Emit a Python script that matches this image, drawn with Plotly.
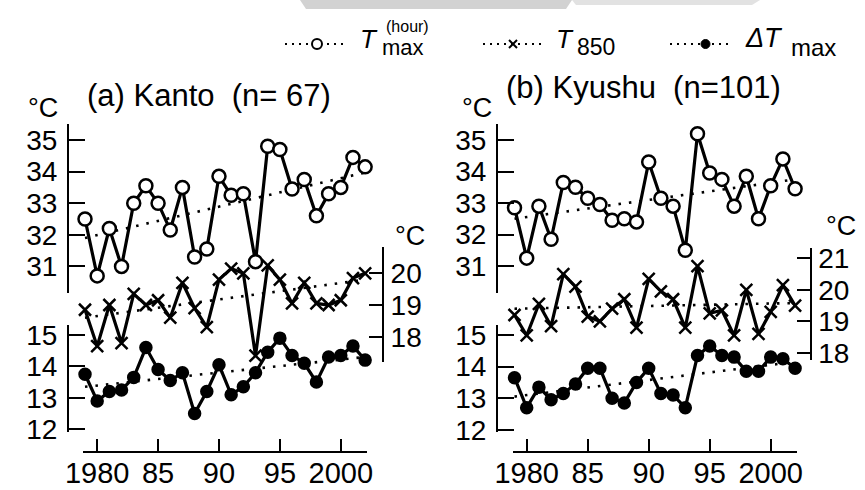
import plotly.graph_objects as go

W, H = 865, 490

# ---------------- data ----------------
years = list(range(1979, 2003))

kanto_tmax = [32.5, 30.7, 32.2, 31.0, 33.0, 33.55, 33.0, 32.15, 33.5, 31.3, 31.55, 33.85,
              33.25, 33.3, 31.15, 34.8, 34.7, 33.45, 33.75, 32.6, 33.3, 33.5, 34.45, 34.15]
kanto_t850 = [18.85, 17.7, 19.0, 17.8, 19.35, 19.0, 19.15, 18.6, 19.7, 18.9, 18.3, 19.8,
              20.15, 20.0, 17.4, 20.25, 19.8, 19.05, 19.7, 19.05, 19.0, 19.15, 19.85, 20.0]
kanto_dt = [13.75, 12.9, 13.2, 13.25, 13.65, 14.6, 13.9, 13.55, 13.8, 12.5, 13.2, 14.05,
            13.1, 13.35, 13.8, 14.45, 14.9, 14.35, 14.1, 13.5, 14.3, 14.35, 14.65, 14.2]

kyushu_tmax = [32.85, 31.25, 32.9, 31.85, 33.65, 33.5, 33.15, 32.95, 32.45, 32.5, 32.4, 34.3,
               33.15, 32.9, 31.5, 35.2, 33.95, 33.75, 32.9, 33.85, 32.5, 33.55, 34.4, 33.45]
kyushu_t850 = [19.2, 18.55, 19.55, 18.85, 20.5, 20.1, 19.15, 19.0, 19.4, 19.7, 18.8, 20.35,
               19.95, 19.7, 18.8, 20.75, 19.25, 19.35, 18.55, 20.0, 18.6, 19.3, 20.15, 19.5]
kyushu_dt = [13.65, 12.7, 13.35, 12.95, 13.15, 13.45, 13.95, 13.95, 13.0, 12.85, 13.5, 13.95,
             13.15, 13.1, 12.7, 14.35, 14.65, 14.35, 14.3, 13.85, 13.85, 14.3, 14.25, 13.95]

# linear trend lines (values at 1979 and 2002)
trend_years = [1979, 2002]
kanto_tmax_trend = [31.9, 33.97]
kanto_t850_trend = [18.6, 19.8]
kanto_dt_trend = [13.35, 14.3]
kyushu_tmax_trend = [32.5, 33.75]
kyushu_t850_trend = [19.4, 19.58]
kyushu_dt_trend = [13.05, 14.15]

xtick_vals = [1980, 1985, 1990, 1995, 2000]
xtick_text = ["1980", "85", "90", "95", "2000"]
tmax_ticks = [31, 32, 33, 34, 35]
dt_ticks = [12, 13, 14, 15]
kanto_t850_ticks = [18, 19, 20]
kyushu_t850_ticks = [18, 19, 20, 21]

# ---------------- helpers ----------------
FONT = "Liberation Sans, Arial, sans-serif"


def px(p):
    return p / W


def py(p):
    return 1 - p / H


def x_axis(p_left, p_right, p_1979, pxper):
    rng = [1979 - (p_1979 - p_left) / pxper, 1979 + (p_right - p_1979) / pxper]
    return dict(domain=[px(p_left), px(p_right)], range=rng, anchor="free",
                position=py(452), tickvals=xtick_vals, ticktext=xtick_text,
                ticks="inside", ticklen=12, tickwidth=2, tickcolor="black",
                showline=True, linewidth=2, linecolor="black", showgrid=False,
                zeroline=False, ticklabelstandoff=-5, automargin=False,
                tickfont=dict(size=29, family=FONT, color="black"))


def y_axis(p_top, p_bot, v_ref, p_ref, pxper, pos, ticks, side="left", ticklen=16):
    rng = [v_ref - (p_bot - p_ref) / pxper, v_ref + (p_ref - p_top) / pxper]
    return dict(domain=[py(p_bot), py(p_top)], range=rng, anchor="free", position=px(pos),
                side=side, tickvals=ticks, ticks="inside", ticklen=ticklen, tickwidth=2,
                tickcolor="black", showline=True, linewidth=2, linecolor="black",
                showgrid=False, zeroline=False, automargin=False,
                ticklabelstandoff=4 if side == "left" else 1,
                tickfont=dict(size=28, family=FONT, color="black"))


fig = go.Figure()


def add_series(xa, ya, vals, trend, symbol, msize, mfill):
    fig.add_trace(go.Scatter(x=trend_years, y=trend, xaxis=xa, yaxis=ya, mode="lines",
                             line=dict(color="black", width=2.6, dash="2.5px,8px"),
                             hoverinfo="skip", showlegend=False))
    fig.add_trace(go.Scatter(x=years, y=vals, xaxis=xa, yaxis=ya, mode="lines+markers",
                             line=dict(color="black", width=3.2),
                             marker=dict(symbol=symbol, size=msize, color=mfill,
                                         line=dict(color="black", width=2.5)),
                             cliponaxis=False, showlegend=False))


# Kanto
add_series("x", "y", kanto_tmax, kanto_tmax_trend, "circle", 13, "white")
add_series("x", "y3", kanto_t850, kanto_t850_trend, "x-thin", 12, "black")
add_series("x", "y2", kanto_dt, kanto_dt_trend, "circle", 11, "black")
# Kyushu
add_series("x2", "y4", kyushu_tmax, kyushu_tmax_trend, "circle", 13, "white")
add_series("x2", "y6", kyushu_t850, kyushu_t850_trend, "x-thin", 12, "black")
add_series("x2", "y5", kyushu_dt, kyushu_dt_trend, "circle", 11, "black")

layout = dict(
    width=W, height=H, margin=dict(l=0, r=0, t=0, b=0, pad=0, autoexpand=False),
    paper_bgcolor="white", plot_bgcolor="rgba(0,0,0,0)", showlegend=False,
    font=dict(family=FONT, color="black"),
    xaxis=x_axis(83.3, 367, 85, 12.18),
    xaxis2=x_axis(512.7, 797, 514.5, 12.2),
    yaxis=y_axis(124, 293, 35, 140, 31.6, 68, tmax_ticks),
    yaxis2=y_axis(325, 432, 15, 335, 31.4, 68, dt_ticks),
    yaxis3=y_axis(247, 362, 20, 273.3, 31.7, 383, kanto_t850_ticks, side="right", ticklen=13),
    yaxis4=y_axis(124, 293, 35, 140, 31.5, 497, tmax_ticks),
    yaxis5=y_axis(325, 432, 15, 335, 31.6, 497, dt_ticks),
    yaxis6=y_axis(248, 360, 21, 258.3, 31.5, 810.7, kyushu_t850_ticks, side="right", ticklen=13),
)
fig.update_layout(**layout)

# ---------------- annotations ----------------
ann = []


def text(t, x, y, size, xanchor="left"):
    ann.append(dict(text=t, x=px(x), y=py(y), xref="paper", yref="paper", showarrow=False,
                    xanchor=xanchor, yanchor="middle", borderpad=0,
                    font=dict(size=size, family=FONT, color="black")))


text("(a) Kanto\u00a0\u00a0(n=\u00a067)", 86, 95, 31)
text("(b) Kyushu\u00a0\u00a0(n=101)", 505, 88, 31)
text("°C", 43, 108, 27, "center")
text("°C", 410, 236, 27, "center")
text("°C", 477, 108, 27, "center")
text("°C", 841, 226, 27, "center")

# legend texts
text("<i>T</i>", 359, 39, 26)
text("(hour)", 385, 27, 16)
text("max", 381, 48, 22)
text("<i>T</i>", 555, 39, 26)
text("850", 576, 47, 23)
text("<i>ΔT</i>", 744, 38, 27)
text("max", 790, 47, 24)

fig.update_layout(annotations=ann)

# ---------------- legend glyphs & scan artefact ----------------
shapes = []


def pline(x0, y0, x1, y1, dash="solid", width=2):
    shapes.append(dict(type="line", xref="paper", yref="paper", x0=px(x0), y0=py(y0),
                       x1=px(x1), y1=py(y1), line=dict(color="black", width=width, dash=dash)))


for (a, b) in [(285, 348), (483, 543), (670, 732)]:
    pline(a, 44, b, 44, dash="2px,5px", width=2)
# open circle
shapes.append(dict(type="circle", xref="paper", yref="paper", x0=px(312), x1=px(322),
                   y0=py(49), y1=py(39), fillcolor="white", line=dict(color="black", width=2)))
# x marker
pline(509, 40, 517, 48)
pline(509, 48, 517, 40)
# filled dot
shapes.append(dict(type="circle", xref="paper", yref="paper", x0=px(701), x1=px(710),
                   y0=py(48.5), y1=py(39.5), fillcolor="black", line=dict(color="black", width=1)))

# light grey smudge at top of scan
shapes.append(dict(type="path", xref="paper", yref="paper",
                   path=f"M {px(300)},{py(0)} L {px(572)},{py(0)} L {px(566)},{py(9)} L {px(306)},{py(9)} Z",
                   fillcolor="#d2d2d2", line=dict(width=0), layer="below"))
shapes.append(dict(type="path", xref="paper", yref="paper",
                   path=f"M {px(572)},{py(0)} L {px(760)},{py(0)} L {px(752)},{py(5)} L {px(576)},{py(5)} Z",
                   fillcolor="#e2e2e2", line=dict(width=0), layer="below"))

fig.update_layout(shapes=shapes)

fig.write_html("out.html")
